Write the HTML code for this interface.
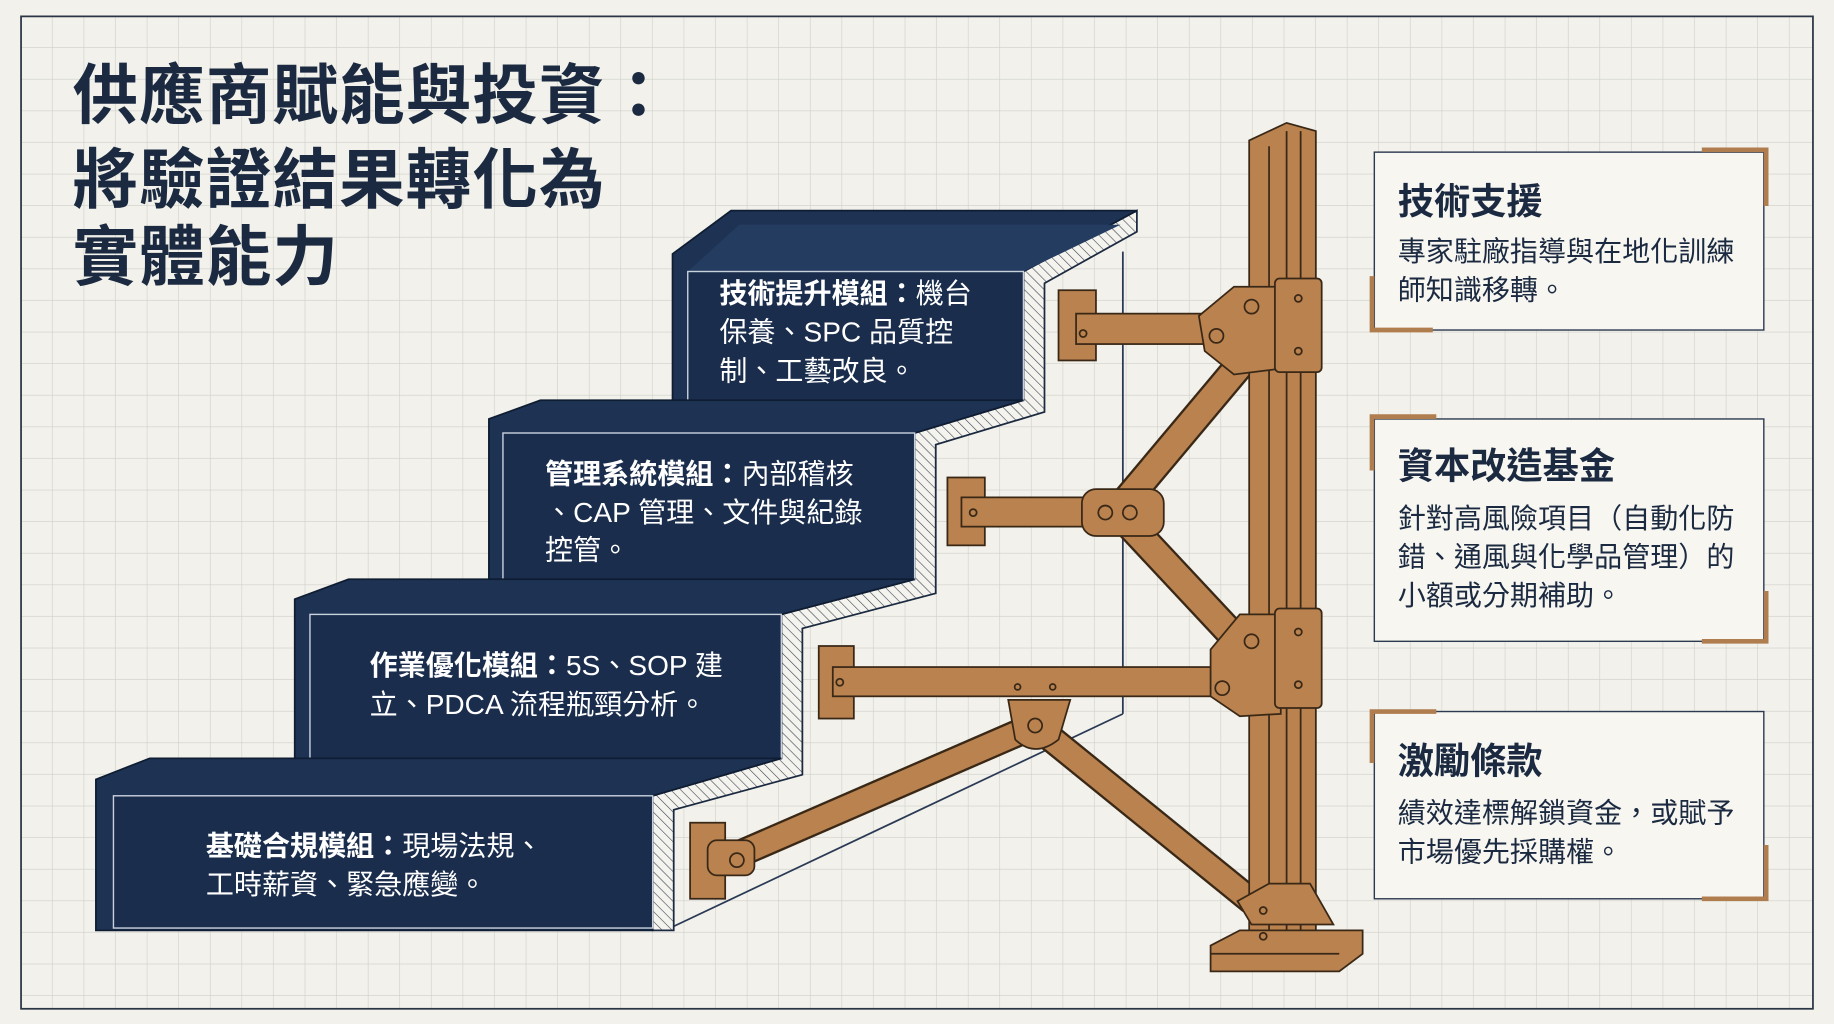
<!DOCTYPE html>
<html><head><meta charset="utf-8"><style>
html,body{margin:0;padding:0;background:#f2f1eb;}
svg{display:block}
text{font-family:"Liberation Sans","Noto Sans CJK TC",sans-serif;}
</style></head><body>
<svg width="1834" height="1024" viewBox="0 0 1568 875" preserveAspectRatio="none" xmlns="http://www.w3.org/2000/svg">
<defs>
<pattern id="grid" width="27" height="27" patternUnits="userSpaceOnUse" x="18" y="14">
<path d="M27 0V27H0" fill="none" stroke="#cfcfc9" stroke-width="1"/>
</pattern>
<pattern id="hatch" width="6" height="6" patternUnits="userSpaceOnUse" patternTransform="rotate(-45)">
<rect width="6" height="6" fill="#f4f3ee"/><line x1="0" y1="0" x2="0" y2="6" stroke="#3a4250" stroke-width="1"/>
</pattern>
</defs>
<rect width="1568" height="875" fill="#f2f1eb"/>
<rect x="18" y="14" width="1532" height="848" fill="url(#grid)" stroke="#2a3545" stroke-width="1.5"/>

<g fill="#1b2a40" font-weight="bold" font-size="56">
<text x="62" y="101" letter-spacing="1">供應商賦能與投資：</text>
<text x="62" y="173" letter-spacing="1">將驗證結果轉化為</text>
<text x="62" y="239" letter-spacing="1">實體能力</text>
</g>

<line x1="960" y1="215" x2="960" y2="610" stroke="#2a3a55" stroke-width="1.5"/>
<line x1="960" y1="610" x2="575" y2="792" stroke="#2a3a55" stroke-width="1.5"/>

<polygon points="972,180 875,232 875,342 782,370 782,495 668,525 668,648 558,680 558,795 576,795 576,692 686,662 686,537 800,507 800,380 893,352 893,242 972,198" fill="url(#hatch)" stroke="#1b2a40" stroke-width="1.5"/>

<polygon points="575,217 625,180 972,180 875,232 875,342 575,342" fill="#1e3354" stroke="#0f1d33" stroke-width="1.5"/>
<polygon points="588,232 632,192 958,192 875,232" fill="#243c60"/>
<rect x="588" y="232" width="287" height="110" fill="#1a2d4c" stroke="#c9d1dd" stroke-width="1.2"/>
<polygon points="418,358 462,342 875,342 782,370 782,495 418,495" fill="#1e3354" stroke="#0f1d33" stroke-width="1.5"/>
<rect x="430" y="370" width="352" height="125" fill="#1a2d4c" stroke="#c9d1dd" stroke-width="1.2"/>
<polygon points="252,512 298,495 782,495 668,525 668,648 252,648" fill="#1e3354" stroke="#0f1d33" stroke-width="1.5"/>
<rect x="265" y="525" width="403" height="123" fill="#1a2d4c" stroke="#c9d1dd" stroke-width="1.2"/>
<polygon points="82,666 128,648 668,648 558,680 558,795 82,795" fill="#1e3354" stroke="#0f1d33" stroke-width="1.5"/>
<rect x="97" y="680" width="461" height="113" fill="#1a2d4c" stroke="#c9d1dd" stroke-width="1.2"/>

<g fill="#ffffff" font-size="24">
<text x="615" y="259"><tspan font-weight="bold">技術提升模組：</tspan>機台</text>
<text x="615" y="292">保養、SPC 品質控</text>
<text x="615" y="325">制、工藝改良。</text>
<text x="466" y="413"><tspan font-weight="bold">管理系統模組：</tspan>內部稽核</text>
<text x="466" y="446">、CAP 管理、文件與紀錄</text>
<text x="466" y="478">控管。</text>
<text x="316" y="577"><tspan font-weight="bold">作業優化模組：</tspan>5S、SOP 建</text>
<text x="316" y="610">立、PDCA 流程瓶頸分析。</text>
<text x="176" y="731"><tspan font-weight="bold">基礎合規模組：</tspan>現場法規、</text>
<text x="176" y="764">工時薪資、緊急應變。</text>
</g>

<g stroke="#3a2817" stroke-width="1.5" fill="#b9824f">
<g stroke-linecap="butt">
<line x1="955" y1="437" x2="1070" y2="300" stroke="#3a2817" stroke-width="26"/>
<line x1="955" y1="437" x2="1070" y2="300" stroke="#b9824f" stroke-width="22"/>
<line x1="955" y1="437" x2="1070" y2="560" stroke="#3a2817" stroke-width="26"/>
<line x1="955" y1="437" x2="1070" y2="560" stroke="#b9824f" stroke-width="22"/>
<line x1="885" y1="620" x2="620" y2="735" stroke="#3a2817" stroke-width="24"/>
<line x1="885" y1="620" x2="620" y2="735" stroke="#b9824f" stroke-width="20"/>
<line x1="885" y1="620" x2="1070" y2="770" stroke="#3a2817" stroke-width="24"/>
<line x1="885" y1="620" x2="1070" y2="770" stroke="#b9824f" stroke-width="20"/>
</g>
<polygon points="1068,120 1100,105 1125,112 1125,800 1068,800"/>
<line x1="1085" y1="125" x2="1085" y2="800"/>
<line x1="1100" y1="112" x2="1100" y2="800"/>
<line x1="1112" y1="112" x2="1112" y2="800"/>
<polygon points="1058,770 1085,755 1120,755 1140,790 1070,790" />
<polygon points="1035,808 1060,795 1165,795 1165,815 1145,830 1035,830" />
<line x1="1035" y1="815" x2="1145" y2="815"/>
<circle cx="1080" cy="778" r="3" fill="none"/><circle cx="1080" cy="800" r="3" fill="none"/>
<rect x="905" y="248" width="32" height="60"/>
<rect x="920" y="268" width="120" height="26"/>
<polygon points="1025,270 1055,245 1095,245 1095,315 1055,320 1030,300"/>
<rect x="1090" y="238" width="40" height="80" rx="4"/>
<circle cx="1070" cy="262" r="6" fill="none"/><circle cx="1040" cy="287" r="6" fill="none"/>
<circle cx="926" cy="285" r="3" fill="none"/>
<circle cx="1110" cy="255" r="3" fill="none"/><circle cx="1110" cy="300" r="3" fill="none"/>
<rect x="810" y="408" width="32" height="58"/>
<rect x="822" y="425" width="110" height="25"/>
<rect x="925" y="418" width="70" height="40" rx="12"/>
<circle cx="945" cy="438" r="6" fill="none"/><circle cx="966" cy="438" r="6" fill="none"/>
<circle cx="832" cy="438" r="3" fill="none"/>
<rect x="700" y="552" width="30" height="62"/>
<rect x="712" y="570" width="330" height="25"/>
<polygon points="1035,555 1060,525 1095,525 1095,610 1060,612 1035,595"/>
<rect x="1090" y="520" width="40" height="85" rx="4"/>
<circle cx="1070" cy="548" r="6" fill="none"/><circle cx="1045" cy="588" r="6" fill="none"/>
<circle cx="1110" cy="540" r="3" fill="none"/><circle cx="1110" cy="585" r="3" fill="none"/>
<circle cx="718" cy="583" r="3" fill="none"/>
<circle cx="870" cy="587" r="2.5" fill="none"/><circle cx="900" cy="587" r="2.5" fill="none"/>
<path d="M862,598 L915,598 L905,632 Q885,648 868,632 Z"/>
<circle cx="885" cy="620" r="6" fill="none"/>
<rect x="590" y="703" width="30" height="65"/>
<rect x="605" y="718" width="40" height="30" rx="8"/>
<circle cx="630" cy="735" r="6" fill="none"/>
</g>

<g fill="#f7f6f1" stroke="#2c3a50" stroke-width="1.2">
<rect x="1175" y="130" width="333" height="152"/>
<rect x="1175" y="358" width="333" height="190"/>
<rect x="1175" y="608" width="333" height="160"/>
</g>
<g fill="none" stroke="#b07d4f" stroke-width="4">
<polyline points="1455,128 1510,128 1510,176"/>
<polyline points="1173,236 1173,282 1225,282"/>
<polyline points="1173,402 1173,356 1228,356"/>
<polyline points="1510,505 1510,548 1455,548"/>
<polyline points="1173,652 1173,608 1228,608"/>
<polyline points="1510,722 1510,768 1455,768"/>
</g>
<g fill="#1b2a40">
<text x="1195" y="183" font-size="31" font-weight="bold">技術支援</text>
<text x="1195" y="223" font-size="24">專家駐廠指導與在地化訓練</text>
<text x="1195" y="256" font-size="24">師知識移轉。</text>
<text x="1195" y="409" font-size="31" font-weight="bold">資本改造基金</text>
<text x="1195" y="451" font-size="24">針對高風險項目（自動化防</text>
<text x="1195" y="484" font-size="24">錯、通風與化學品管理）的</text>
<text x="1195" y="517" font-size="24">小額或分期補助。</text>
<text x="1195" y="661" font-size="31" font-weight="bold">激勵條款</text>
<text x="1195" y="703" font-size="24">績效達標解鎖資金，或賦予</text>
<text x="1195" y="736" font-size="24">市場優先採購權。</text>
</g>
</svg>
</body></html>
